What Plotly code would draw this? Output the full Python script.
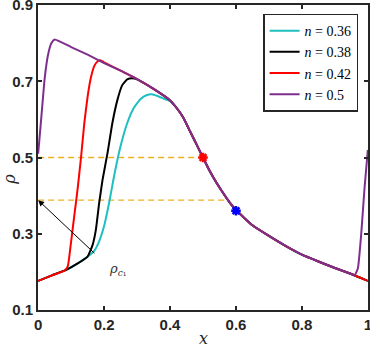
import plotly.graph_objects as go

# merged right-hand part shared by all curves
x_tail = [0.42, 0.44, 0.46, 0.48, 0.50, 0.52, 0.54, 0.56, 0.58, 0.60, 0.65, 0.70, 0.75, 0.80, 0.85, 0.90, 0.95]
y_tail = [0.630, 0.605, 0.570, 0.535, 0.500, 0.465, 0.435, 0.408, 0.383, 0.362, 0.322, 0.294, 0.268, 0.245, 0.227, 0.210, 0.194]

x_036 = [0, 0.04, 0.085, 0.12, 0.15, 0.17, 0.185, 0.2, 0.215, 0.23, 0.25, 0.27, 0.29, 0.31, 0.33, 0.345, 0.36, 0.38, 0.40] + x_tail + [1.0]
y_036 = [0.176, 0.19, 0.205, 0.222, 0.24, 0.255, 0.28, 0.32, 0.38, 0.45, 0.53, 0.59, 0.63, 0.653, 0.664, 0.666, 0.662, 0.655, 0.648] + y_tail + [0.176]

x_038 = [0, 0.04, 0.085, 0.12, 0.15, 0.165, 0.175, 0.185, 0.195, 0.21, 0.225, 0.24, 0.255, 0.27, 0.285, 0.30, 0.35, 0.40] + x_tail + [1.0]
y_038 = [0.176, 0.19, 0.205, 0.222, 0.24, 0.27, 0.31, 0.38, 0.44, 0.51, 0.59, 0.65, 0.69, 0.705, 0.708, 0.705, 0.68, 0.65] + y_tail + [0.176]

x_042 = [0, 0.04, 0.08, 0.09, 0.10, 0.11, 0.12, 0.13, 0.14, 0.15, 0.16, 0.17, 0.18, 0.19, 0.20, 0.25, 0.30, 0.35, 0.40] + x_tail + [1.0]
y_042 = [0.176, 0.19, 0.203, 0.215, 0.28, 0.35, 0.42, 0.50, 0.59, 0.66, 0.71, 0.74, 0.752, 0.755, 0.750, 0.728, 0.706, 0.68, 0.65] + y_tail + [0.176]

x_050 = [0, 0.005, 0.01, 0.02, 0.03, 0.04, 0.05, 0.10, 0.15, 0.20, 0.25, 0.30, 0.35, 0.40] + x_tail + [0.96, 0.97, 0.98, 0.99, 1.0]
y_050 = [0.51, 0.56, 0.61, 0.71, 0.77, 0.80, 0.81, 0.79, 0.77, 0.748, 0.728, 0.706, 0.68, 0.65] + y_tail + [0.19, 0.21, 0.30, 0.42, 0.52]

series = [
    ("0.36", x_036, y_036, "#1fbfbf"),
    ("0.38", x_038, y_038, "#000000"),
    ("0.42", x_042, y_042, "#ff0000"),
    ("0.5", x_050, y_050, "#7e2f8e"),
]

rho_levels = [0.5, 0.388]
dash_ends = [0.5, 0.58]
star_x = [0.5, 0.6]
star_y = [0.5, 0.36]
star_colors = ["#ff0000", "#0000ff"]

fig = go.Figure()

# orange guide lines
for lev, xe in zip(rho_levels, dash_ends):
    fig.add_trace(go.Scatter(x=[0, xe], y=[lev, lev], mode="lines",
                             line=dict(color="#edb120", width=1.3, dash="6px,4px"),
                             showlegend=False, hoverinfo="skip"))

for name, xs, ys, col in series:
    fig.add_trace(go.Scatter(x=xs, y=ys, mode="lines", name=f"<i>n</i> = {name}",
                             line=dict(color=col, width=2, shape="spline", smoothing=0.4)))

for sx, sy, sc in zip(star_x, star_y, star_colors):
    fig.add_trace(go.Scatter(x=[sx], y=[sy], mode="markers", showlegend=False,
                             marker=dict(symbol="asterisk-open", size=8, color=sc,
                                         line=dict(color=sc, width=2.5))))

fig.add_annotation(x=0, y=0.388, ax=0.175, ay=0.245, xref="x", yref="y", axref="x", ayref="y",
                   showarrow=True, arrowhead=2, arrowsize=1.2, arrowwidth=1, arrowcolor="black", text="")
fig.add_annotation(x=0.24, y=0.205, xref="x", yref="y", showarrow=False,
                   text="<i>ρ</i><sub><i>c</i>₁</sub>",
                   font=dict(family="DejaVu Serif", size=13, color="#333333"))

# axis titles
fig.add_annotation(x=-0.085, y=0.43, xref="paper", yref="paper", xanchor="center", yanchor="middle",
                   showarrow=False, textangle=-90,
                   text="<i>ρ</i>", font=dict(family="DejaVu Serif", size=16, color="#262626"))
fig.add_annotation(x=0.5, y=-0.095, xref="paper", yref="paper", xanchor="center", yanchor="middle",
                   showarrow=False,
                   text="<i>x</i>", font=dict(family="DejaVu Serif", size=16, color="#262626"))

axis_common = dict(showline=True, linecolor="#262626", linewidth=2, mirror="ticks",
                   ticks="inside", ticklen=4, tickwidth=2, tickcolor="#262626",
                   showgrid=False, zeroline=False, automargin=False, ticklabeloverflow="allow",
                   tickfont=dict(family="Liberation Sans", size=15, color="#262626", weight="bold"))

fig.update_xaxes(range=[-0.0005, 1.0005], tickvals=[0, 0.2, 0.4, 0.6, 0.8, 1],
                 ticktext=["0", "0.2", "0.4", "0.6", "0.8", "1"], **axis_common)
fig.update_yaxes(range=[0.0996, 0.9004], tickvals=[0.1, 0.3, 0.5, 0.7, 0.9], **axis_common)

fig.update_layout(
    width=370, height=346,
    margin=dict(l=38, r=2, t=5, b=36),
    paper_bgcolor="white", plot_bgcolor="white",
    legend=dict(x=0.97, y=0.972, xanchor="right", yanchor="top",
                bgcolor="white", bordercolor="#262626", borderwidth=1.5,
                font=dict(family="Liberation Serif", size=14, color="black"),
                tracegroupgap=0, itemwidth=30),
)

fig.write_html("out.html", config={"displayModeBar": False},
               post_script="document.body.style.margin='0';")
